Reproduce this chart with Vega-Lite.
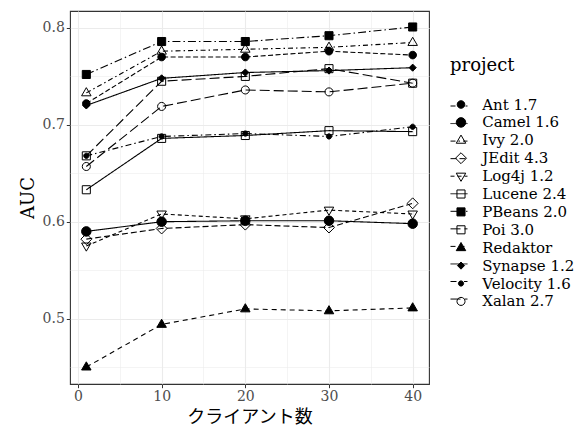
{
  "$schema": "https://vega.github.io/schema/vega-lite/v6.json",
  "width": 359,
  "height": 373,
  "autosize": {"type": "none"},
  "padding": {"left": 70, "top": 11, "right": 153, "bottom": 44},
  "background": "white",
  "config": {
    "font": "DejaVu Serif, Noto Sans CJK JP",
    "view": {"stroke": "#333333", "strokeWidth": 1.1},
    "axis": {
      "domain": false,
      "grid": true,
      "gridColor": "#ebebeb",
      "tickColor": "#333333",
      "tickSize": 3.7,
      "tickWidth": 1,
      "labelColor": "#4d4d4d",
      "labelFontSize": 14,
      "labelPadding": 2,
      "labelFlush": false,
      "labelOverlap": false,
      "titleColor": "black",
      "titleFontWeight": "normal",
      "titleFontSize": 18
    },
    "legend": {
      "orient": "none",
      "legendX": 380,
      "legendY": 46,
      "titleFontSize": 18,
      "titleFontWeight": "normal",
      "titleColor": "black",
      "titlePadding": 22,
      "labelFontSize": 15,
      "labelColor": "black"
    }
  },
  "data": {
    "values": [
      {"project": "Ant 1.7", "clients": 1, "auc": 0.722},
      {"project": "Ant 1.7", "clients": 10, "auc": 0.770},
      {"project": "Ant 1.7", "clients": 20, "auc": 0.770},
      {"project": "Ant 1.7", "clients": 30, "auc": 0.776},
      {"project": "Ant 1.7", "clients": 40, "auc": 0.772},
      {"project": "Camel 1.6", "clients": 1, "auc": 0.590},
      {"project": "Camel 1.6", "clients": 10, "auc": 0.600},
      {"project": "Camel 1.6", "clients": 20, "auc": 0.601},
      {"project": "Camel 1.6", "clients": 30, "auc": 0.601},
      {"project": "Camel 1.6", "clients": 40, "auc": 0.598},
      {"project": "Ivy 2.0", "clients": 1, "auc": 0.733},
      {"project": "Ivy 2.0", "clients": 10, "auc": 0.776},
      {"project": "Ivy 2.0", "clients": 20, "auc": 0.778},
      {"project": "Ivy 2.0", "clients": 30, "auc": 0.780},
      {"project": "Ivy 2.0", "clients": 40, "auc": 0.785},
      {"project": "JEdit 4.3", "clients": 1, "auc": 0.582},
      {"project": "JEdit 4.3", "clients": 10, "auc": 0.593},
      {"project": "JEdit 4.3", "clients": 20, "auc": 0.597},
      {"project": "JEdit 4.3", "clients": 30, "auc": 0.594},
      {"project": "JEdit 4.3", "clients": 40, "auc": 0.619},
      {"project": "Log4j 1.2", "clients": 1, "auc": 0.575},
      {"project": "Log4j 1.2", "clients": 10, "auc": 0.608},
      {"project": "Log4j 1.2", "clients": 20, "auc": 0.603},
      {"project": "Log4j 1.2", "clients": 30, "auc": 0.612},
      {"project": "Log4j 1.2", "clients": 40, "auc": 0.608},
      {"project": "Lucene 2.4", "clients": 1, "auc": 0.633},
      {"project": "Lucene 2.4", "clients": 10, "auc": 0.686},
      {"project": "Lucene 2.4", "clients": 20, "auc": 0.689},
      {"project": "Lucene 2.4", "clients": 30, "auc": 0.694},
      {"project": "Lucene 2.4", "clients": 40, "auc": 0.693},
      {"project": "PBeans 2.0", "clients": 1, "auc": 0.752},
      {"project": "PBeans 2.0", "clients": 10, "auc": 0.786},
      {"project": "PBeans 2.0", "clients": 20, "auc": 0.786},
      {"project": "PBeans 2.0", "clients": 30, "auc": 0.792},
      {"project": "PBeans 2.0", "clients": 40, "auc": 0.801},
      {"project": "Poi 3.0", "clients": 1, "auc": 0.668},
      {"project": "Poi 3.0", "clients": 10, "auc": 0.745},
      {"project": "Poi 3.0", "clients": 20, "auc": 0.750},
      {"project": "Poi 3.0", "clients": 30, "auc": 0.758},
      {"project": "Poi 3.0", "clients": 40, "auc": 0.743},
      {"project": "Redaktor", "clients": 1, "auc": 0.450},
      {"project": "Redaktor", "clients": 10, "auc": 0.494},
      {"project": "Redaktor", "clients": 20, "auc": 0.510},
      {"project": "Redaktor", "clients": 30, "auc": 0.508},
      {"project": "Redaktor", "clients": 40, "auc": 0.511},
      {"project": "Synapse 1.2", "clients": 1, "auc": 0.720},
      {"project": "Synapse 1.2", "clients": 10, "auc": 0.748},
      {"project": "Synapse 1.2", "clients": 20, "auc": 0.754},
      {"project": "Synapse 1.2", "clients": 30, "auc": 0.756},
      {"project": "Synapse 1.2", "clients": 40, "auc": 0.759},
      {"project": "Velocity 1.6", "clients": 1, "auc": 0.668},
      {"project": "Velocity 1.6", "clients": 10, "auc": 0.688},
      {"project": "Velocity 1.6", "clients": 20, "auc": 0.691},
      {"project": "Velocity 1.6", "clients": 30, "auc": 0.688},
      {"project": "Velocity 1.6", "clients": 40, "auc": 0.698},
      {"project": "Xalan 2.7", "clients": 1, "auc": 0.657},
      {"project": "Xalan 2.7", "clients": 10, "auc": 0.719},
      {"project": "Xalan 2.7", "clients": 20, "auc": 0.736},
      {"project": "Xalan 2.7", "clients": 30, "auc": 0.734},
      {"project": "Xalan 2.7", "clients": 40, "auc": 0.743}
    ]
  },
  "encoding": {
    "x": {
      "field": "clients",
      "type": "quantitative",
      "scale": {"domain": [-0.95, 41.95], "nice": false, "zero": false},
      "axis": {
        "title": "クライアント数",
        "titleFontSize": 18,
        "titlePadding": 5,
        "values": [0, 5, 10, 15, 20, 25, 30, 35, 40],
        "labelExpr": "datum.value % 10 === 0 ? datum.label : ''",
        "gridWidth": {"condition": {"test": "datum.value % 10 === 0", "value": 1.1}, "value": 0.55},
        "tickOpacity": {"condition": {"test": "datum.value % 10 === 0", "value": 1}, "value": 0}
      }
    },
    "y": {
      "field": "auc",
      "type": "quantitative",
      "scale": {"domain": [0.4325, 0.8175], "nice": false, "zero": false},
      "axis": {
        "title": "AUC",
        "titlePadding": 5,
        "values": [0.45, 0.5, 0.55, 0.6, 0.65, 0.7, 0.75, 0.8],
        "labelExpr": "round(datum.value * 100) % 10 === 0 ? format(datum.value, '.1f') : ''",
        "gridWidth": {"condition": {"test": "round(datum.value * 100) % 10 === 0", "value": 1.1}, "value": 0.55},
        "tickOpacity": {"condition": {"test": "round(datum.value * 100) % 10 === 0", "value": 1}, "value": 0}
      }
    }
  },
  "layer": [
    {
      "mark": {"type": "line", "color": "black", "strokeWidth": 1.1},
      "encoding": {
        "strokeDash": {
          "field": "project",
          "type": "nominal",
          "scale": {
            "range": [[5, 2.5], [1, 0], [5, 3, 1.5, 3], [6, 3], [4, 3], [1, 0], [8, 3, 1.5, 3], [10, 4], [5, 4], [1, 0], [6, 3, 1.5, 3], [10, 4]]
          },
          "legend": {
            "title": " ",
            "symbolType": "stroke",
            "symbolSize": 289,
            "symbolStrokeWidth": 1,
            "symbolStrokeColor": "black",
            "symbolOffset": 0,
            "labelExpr": "' '",
            "rowPadding": 0.55
          }
        }
      }
    },
    {
      "mark": {"type": "point", "filled": false, "strokeWidth": 1, "opacity": 1, "size": 90},
      "encoding": {
        "shape": {
          "field": "project",
          "type": "nominal",
          "scale": {
            "domain": ["Ant 1.7", "Camel 1.6", "Ivy 2.0", "JEdit 4.3", "Log4j 1.2", "Lucene 2.4", "PBeans 2.0", "Poi 3.0", "Redaktor", "Synapse 1.2", "Velocity 1.6", "Xalan 2.7"],
            "range": [
              "M-0.8,0A0.8,0.8 0 1,0 0.8,0A0.8,0.8 0 1,0 -0.8,0Z",
              "M-1,0A1,1 0 1,0 1,0A1,1 0 1,0 -1,0Z",
              "M0,-1.1L1,0.62L-1,0.62Z",
              "M0,-1.15L1.15,0L0,1.15L-1.15,0Z",
              "M0,1.1L1,-0.62L-1,-0.62Z",
              "M-0.85,-0.85L0.85,-0.85L0.85,0.85L-0.85,0.85Z",
              "M-0.85,-0.85L0.85,-0.85L0.85,0.85L-0.85,0.85Z",
              "M-0.85,-0.85L0.85,-0.85L0.85,0.85L-0.85,0.85Z",
              "M0,-1.1L1,0.62L-1,0.62Z",
              "M0,-0.75L0.75,0L0,0.75L-0.75,0Z",
              "M-0.55,0A0.55,0.55 0 1,0 0.55,0A0.55,0.55 0 1,0 -0.55,0Z",
              "M-0.85,0A0.85,0.85 0 1,0 0.85,0A0.85,0.85 0 1,0 -0.85,0Z"
            ]
          },
          "legend": {
            "title": "project",
            "symbolSize": 90,
            "symbolStrokeColor": "black",
            "symbolStrokeWidth": 1,
            "symbolOffset": 3.5,
            "labelOffset": 13.7,
            "rowPadding": 1.9
          }
        },
        "fill": {
          "field": "project",
          "type": "nominal",
          "scale": {
            "domain": ["Ant 1.7", "Camel 1.6", "Ivy 2.0", "JEdit 4.3", "Log4j 1.2", "Lucene 2.4", "PBeans 2.0", "Poi 3.0", "Redaktor", "Synapse 1.2", "Velocity 1.6", "Xalan 2.7"],
            "range": ["black", "black", "transparent", "transparent", "transparent", "transparent", "black", "transparent", "black", "black", "black", "transparent"]
          },
          "legend": {
            "title": "project",
            "symbolSize": 90,
            "symbolStrokeColor": "black",
            "symbolStrokeWidth": 1,
            "symbolOffset": 3.5,
            "labelOffset": 13.7,
            "rowPadding": 1.9
          }
        },
        "stroke": {
          "field": "project",
          "type": "nominal",
          "scale": {
            "domain": ["Ant 1.7", "Camel 1.6", "Ivy 2.0", "JEdit 4.3", "Log4j 1.2", "Lucene 2.4", "PBeans 2.0", "Poi 3.0", "Redaktor", "Synapse 1.2", "Velocity 1.6", "Xalan 2.7"],
            "range": ["black", "black", "black", "black", "black", "black", "black", "black", "black", "black", "black", "black"]
          },
          "legend": {
            "title": "project",
            "symbolSize": 90,
            "symbolStrokeColor": "black",
            "symbolStrokeWidth": 1,
            "symbolOffset": 3.5,
            "labelOffset": 13.7,
            "rowPadding": 1.9
          }
        }
      }
    }
  ]
}
